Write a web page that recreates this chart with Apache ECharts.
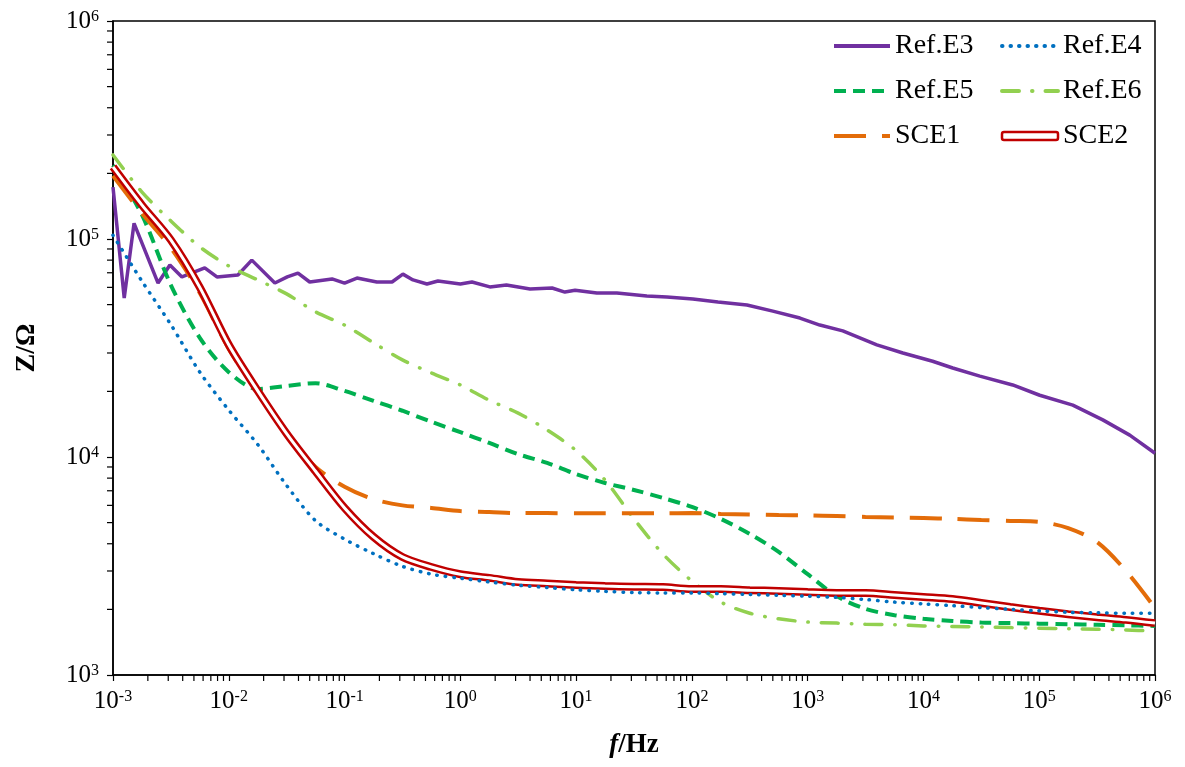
<!DOCTYPE html>
<html><head><meta charset="utf-8">
<script src="https://cdn.jsdelivr.net/npm/echarts@6/dist/echarts.min.js"></script>
<style>html,body{margin:0;padding:0;background:#fff}#c{width:1185px;height:767px}</style>
</head><body><div id="c"></div>
<script>
// Common frequency grid (Hz), quarter-decade steps
const freq = [1e-3, 1.78e-3, 3.16e-3, 5.62e-3,
  1e-2, 1.78e-2, 3.16e-2, 5.62e-2,
  0.1, 0.178, 0.316, 0.562,
  1, 1.78, 3.16, 5.62,
  10, 17.8, 31.6, 56.2,
  100, 178, 316, 562,
  1e3, 1.78e3, 3.16e3, 5.62e3,
  1e4, 1.78e4, 3.16e4, 5.62e4,
  1e5, 1.78e5, 3.16e5, 5.62e5,
  1e6];

// Ref.E3 has its own (noisy) sampling
const freqE3 = [1e-3, 1.25e-3, 1.52e-3, 2.45e-3, 3.1e-3, 3.94e-3, 6.2e-3, 7.9e-3, 1.2e-2, 1.58e-2,
  2.5e-2, 3.2e-2, 3.96e-2, 5.0e-2, 7.8e-2, 0.1, 0.128, 0.19, 0.257, 0.319,
  0.39, 0.515, 0.641, 1, 1.26, 1.8, 2.5, 4.0, 6.2, 8.0,
  9.8, 15.1, 22.5, 40.8, 60.8, 102, 168, 299, 500, 857,
  1274, 2010, 3960, 6640, 1.2e4, 1.79e4, 3.07e4, 5.9e4, 1.01e5, 1.95e5,
  3.54e5, 6.05e5, 1e6];
const zE3 = [1.73e5, 5.36e4, 1.18e5, 6.28e4, 7.6e4, 6.7e4, 7.37e4, 6.7e4, 6.84e4, 8.0e4,
  6.28e4, 6.7e4, 6.98e4, 6.35e4, 6.56e4, 6.28e4, 6.62e4, 6.35e4, 6.35e4, 6.9e4,
  6.49e4, 6.22e4, 6.42e4, 6.22e4, 6.35e4, 6.03e4, 6.15e4, 5.9e4, 5.96e4, 5.71e4,
  5.82e4, 5.65e4, 5.65e4, 5.48e4, 5.42e4, 5.31e4, 5.14e4, 4.98e4, 4.67e4, 4.34e4,
  4.03e4, 3.79e4, 3.27e4, 3.0e4, 2.75e4, 2.56e4, 2.35e4, 2.14e4, 1.92e4, 1.73e4,
  1.48e4, 1.26e4, 1.04e4];

const zE4 = [1.04e5, 6.4e4, 4.05e4, 2.45e4, 1.64e4, 1.14e4, 7.4e3, 5.1e3, 4.2e3, 3.6e3,
  3.15e3, 2.9e3, 2.78e3, 2.67e3, 2.58e3, 2.52e3, 2.46e3, 2.42e3, 2.39e3, 2.38e3,
  2.38e3, 2.36e3, 2.34e3, 2.32e3, 2.3e3, 2.27e3, 2.22e3, 2.16e3, 2.12e3, 2.08e3,
  2.04e3, 2.0e3, 1.97e3, 1.94e3, 1.93e3, 1.92e3, 1.92e3];

const zE5 = [2.18e5, 1.29e5, 6.15e4, 3.52e4, 2.45e4, 2.05e4, 2.12e4, 2.18e4, 2.01e4, 1.81e4,
  1.63e4, 1.45e4, 1.3e4, 1.16e4, 1.03e4, 9.4e3, 8.35e3, 7.6e3, 7.06e3, 6.49e3,
  5.9e3, 5.2e3, 4.44e3, 3.67e3, 2.9e3, 2.3e3, 2.01e3, 1.88e3, 1.81e3, 1.77e3,
  1.74e3, 1.73e3, 1.72e3, 1.71e3, 1.7e3, 1.69e3, 1.68e3];

const zE6 = [2.43e5, 1.64e5, 1.21e5, 9.2e4, 7.52e4, 6.49e4, 5.6e4, 4.63e4, 4.03e4, 3.34e4,
  2.79e4, 2.43e4, 2.14e4, 1.82e4, 1.59e4, 1.33e4, 1.07e4, 7.83e3, 5.2e3, 3.59e3,
  2.7e3, 2.16e3, 1.92e3, 1.81e3, 1.75e3, 1.73e3, 1.71e3, 1.7e3, 1.68e3, 1.67e3,
  1.66e3, 1.65e3, 1.64e3, 1.63e3, 1.62e3, 1.61e3, 1.59e3];

const zSCE1 = [1.95e5, 1.31e5, 9.1e4, 5.65e4, 3.13e4, 1.97e4, 1.26e4, 9.0e3, 7.3e3, 6.4e3,
  6.0e3, 5.84e3, 5.65e3, 5.6e3, 5.53e3, 5.53e3, 5.52e3, 5.52e3, 5.52e3, 5.52e3,
  5.53e3, 5.48e3, 5.45e3, 5.42e3, 5.4e3, 5.36e3, 5.31e3, 5.28e3, 5.25e3, 5.2e3,
  5.14e3, 5.09e3, 5.04e3, 4.72e3, 4.07e3, 3.0e3, 2.03e3];

const zSCE2 = [2.14e5, 1.43e5, 9.9e4, 6.0e4, 3.27e4, 2.01e4, 1.28e4, 8.6e3, 5.84e3, 4.3e3,
  3.48e3, 3.13e3, 2.9e3, 2.79e3, 2.67e3, 2.63e3, 2.59e3, 2.56e3, 2.54e3, 2.53e3,
  2.48e3, 2.48e3, 2.45e3, 2.43e3, 2.4e3, 2.38e3, 2.38e3, 2.33e3, 2.28e3, 2.23e3,
  2.14e3, 2.05e3, 1.97e3, 1.9e3, 1.84e3, 1.79e3, 1.73e3];

const xMin = 1e-3, xMax = 1e6, yMin = 1e3, yMax = 1e6;
const xDecades = [-3, -2, -1, 0, 1, 2, 3, 4, 5];
const yDecades = [3, 4, 5];
const minorMult = [2, 3, 4, 5, 6, 7, 8, 9];
const xMinor = [], yMinor = [];
xDecades.forEach(e => minorMult.forEach(m => xMinor.push(m * Math.pow(10, e))));
yDecades.forEach(e => minorMult.forEach(m => yMinor.push(m * Math.pow(10, e))));

const FONT = 'Liberation Serif';
const pairs = (xs, ys) => xs.map((x, i) => [x, ys[i]]);
const supLabel = v => '{b|10}{s|' + Math.round(Math.log10(v)) + '}';
const labelRich = {
  b: { fontSize: 25, fontFamily: FONT, color: '#000' },
  s: { fontSize: 16, fontFamily: FONT, color: '#000', verticalAlign: 'top' }
};

const lineBase = { type: 'line', symbol: 'none', showSymbol: false, animation: false, silent: true };

const legendBase = {
  orient: 'vertical', itemWidth: 56, itemHeight: 8, itemGap: 17, padding: 0, selectedMode: false, top: 32,
  textStyle: { fontSize: 28, fontFamily: FONT, color: '#000', lineHeight: 28 },
  itemStyle: { opacity: 0 },
  lineStyle: { width: 4 }
};

const chart = echarts.init(document.getElementById('c'), null, { renderer: 'canvas' });
chart.setOption({
  backgroundColor: '#fff',
  animation: false,
  grid: { left: 113, right: 30, top: 21, bottom: 92, show: true, borderColor: '#000', borderWidth: 1.5, backgroundColor: 'transparent' },
  xAxis: {
    type: 'log', logBase: 10, min: xMin, max: xMax,
    axisLine: { show: true, lineStyle: { color: '#000', width: 1.5 } },
    axisTick: { show: true, inside: false, length: 6, lineStyle: { color: '#000', width: 1.2 } },
    splitLine: { show: false },
    axisLabel: { formatter: supLabel, rich: labelRich, margin: 14, showMinLabel: true, showMaxLabel: true },
    name: '{i|f}{n|/Hz}', nameLocation: 'middle', nameGap: 57,
    nameTextStyle: { rich: {
      i: { fontStyle: 'italic', fontWeight: 'bold', fontSize: 27, fontFamily: FONT, color: '#000' },
      n: { fontWeight: 'bold', fontSize: 27, fontFamily: FONT, color: '#000' } } }
  },
  yAxis: {
    type: 'log', logBase: 10, min: yMin, max: yMax,
    axisLine: { show: true, lineStyle: { color: '#000', width: 1.5 } },
    axisTick: { show: true, inside: false, length: 6, lineStyle: { color: '#000', width: 1.2 } },
    splitLine: { show: false },
    axisLabel: { formatter: supLabel, rich: labelRich, margin: 14 },
    name: 'Z/Ω', nameLocation: 'middle', nameGap: 72,
    nameTextStyle: { fontWeight: 'bold', fontSize: 28, fontFamily: FONT, color: '#000' }
  },
  legend: [
    Object.assign({}, legendBase, { left: 832, data: ['Ref.E3', 'Ref.E5', 'SCE1'] }),
    Object.assign({}, legendBase, { left: 1000, data: ['Ref.E4', 'Ref.E6',
      { name: 'SCE2', icon: 'roundRect', itemStyle: { opacity: 1, color: '#fff', borderColor: '#C00000', borderWidth: 2.5 } }] })
  ],
  series: [
    Object.assign({}, lineBase, { name: 'Ref.E3', data: pairs(freqE3, zE3), smooth: false, z: 3,
      lineStyle: { color: '#7030A0', width: 3.5 }, itemStyle: { color: '#7030A0' } }),
    Object.assign({}, lineBase, { name: 'Ref.E5', data: pairs(freq, zE5), smooth: 0.3, z: 3,
      lineStyle: { color: '#00B050', width: 4, type: [12, 7] }, itemStyle: { color: '#00B050' } }),
    Object.assign({}, lineBase, { name: 'Ref.E6', data: pairs(freq, zE6), smooth: 0.3, z: 3,
      lineStyle: { color: '#92D050', width: 3.5, type: [17, 13, 0.5, 13], cap: 'round' }, itemStyle: { color: '#92D050' } }),
    Object.assign({}, lineBase, { name: 'SCE1', data: pairs(freq, zSCE1), smooth: 0.3, z: 3,
      lineStyle: { color: '#E36C09', width: 4, type: [32, 16] }, itemStyle: { color: '#E36C09' } }),
    Object.assign({}, lineBase, { name: 'SCE2', data: pairs(freq, zSCE2), smooth: 0.3, z: 3,
      lineStyle: { color: '#C00000', width: 8 }, itemStyle: { color: '#C00000' } }),
    Object.assign({}, lineBase, { name: 'SCE2 inner', data: pairs(freq, zSCE2), smooth: 0.3, z: 3,
      lineStyle: { color: '#fff', width: 3 }, itemStyle: { color: '#fff' } }),
    Object.assign({}, lineBase, { name: 'Ref.E4', data: pairs(freq, zE4), smooth: 0.3, z: 4,
      lineStyle: { color: '#0070C0', width: 3.5, type: [0.5, 8], cap: 'round' }, itemStyle: { color: '#0070C0' } }),
    { type: 'custom', name: 'xMinorTicks', silent: true, clip: false, z: 5,
      data: xMinor.map(v => [v, yMin]), encode: { x: 0, y: 1 },
      renderItem: (params, api) => {
        const p = api.coord([api.value(0), api.value(1)]);
        return { type: 'line', shape: { x1: p[0], y1: p[1], x2: p[0], y2: p[1] + 6 }, style: { stroke: '#000', lineWidth: 1.2 } };
      } },
    { type: 'custom', name: 'yMinorTicks', silent: true, clip: false, z: 5,
      data: yMinor.map(v => [xMin, v]), encode: { x: 0, y: 1 },
      renderItem: (params, api) => {
        const p = api.coord([api.value(0), api.value(1)]);
        return { type: 'line', shape: { x1: p[0] - 6, y1: p[1], x2: p[0], y2: p[1] }, style: { stroke: '#000', lineWidth: 1.2 } };
      } }
  ]
});
</script></body></html>
